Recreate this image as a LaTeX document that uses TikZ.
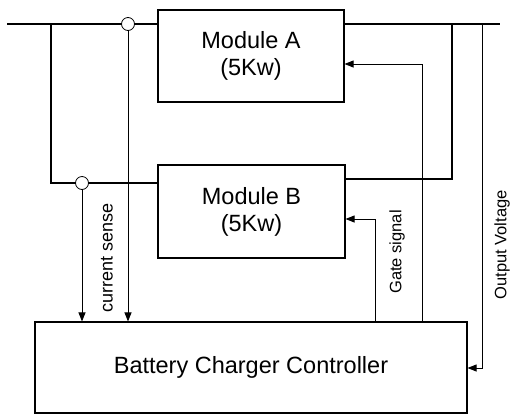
\documentclass[tikz,border=0pt]{standalone}
\usepackage{fontspec}
\setmainfont{Liberation Sans}
\usetikzlibrary{arrows.meta}
\begin{document}
\begin{tikzpicture}[x=1pt,y=-1pt,
  box/.style={draw,line width=1.1pt,rectangle,inner sep=0pt,font=\fontsize{23.5}{27}\selectfont,align=center},
  bus/.style={line width=2.6pt},
  sig/.style={line width=0.9pt},
  arr/.style={sig,-{Triangle[length=9pt,width=7pt]}},
  junc/.style={draw,circle,fill=white,line width=0.8pt,minimum size=13pt,inner sep=0pt},
  lab/.style={rotate=90,font=\fontsize{18}{20}\selectfont,inner sep=0pt},
  slab/.style={lab,font=\fontsize{16.5}{18}\selectfont}]
\useasboundingbox (0,0) rectangle (511,416);
% boxes
\node[box,minimum width=186pt,minimum height=92pt] (modA) at (251,56) {Module A\\(5Kw)};
\node[box,minimum width=187pt,minimum height=93pt] (modB) at (251.5,211.5) {Module B\\(5Kw)};
\node[box,minimum width=432pt,minimum height=91pt] (ctrl) at (251,367.5) {Battery Charger Controller};
% coordinates
\coordinate (busL) at (7,24);
\coordinate (lt) at (51,24);
\coordinate (lb) at (51,183);
\coordinate (busR) at (500,24);
\coordinate (rt) at (452,24);
\coordinate (rb) at (452,179);
\coordinate (ov) at (482,24);
\coordinate (gA) at (422,64);
\coordinate (gB) at (375,219);
% bus lines
\draw[bus] (busL) -- (modA.west |- busL);
\draw[bus] (lt) -- (lb) -- (modB.west |- lb);
\draw[bus] (modA.east |- busR) -- (busR);
\draw[bus] (modB.east |- rb) -- (rb) -- (rt);
% signal lines
\draw[arr] (ov) -- (ov |- 0,368) -- (ctrl.east |- 0,368);
\draw[arr] (ctrl.north -| gA) -- (gA) -- (modA.east |- gA);
\draw[arr] (ctrl.north -| gB) -- (gB) -- (modB.east |- gB);
% junctions
\node[junc] (c1) at (128,24) {};
\node[junc] (c2) at (82,183) {};
\draw[arr] (c1.south) -- (ctrl.north -| c1);
\draw[arr] (c2.south) -- (ctrl.north -| c2);
% labels
\node[lab] (lcs) at (107,258) {current sense};
\node[slab] (lgs) at (397,252) {Gate signal};
\node[slab] (lov) at (502,245) {Output Voltage};
\end{tikzpicture}
\end{document}
